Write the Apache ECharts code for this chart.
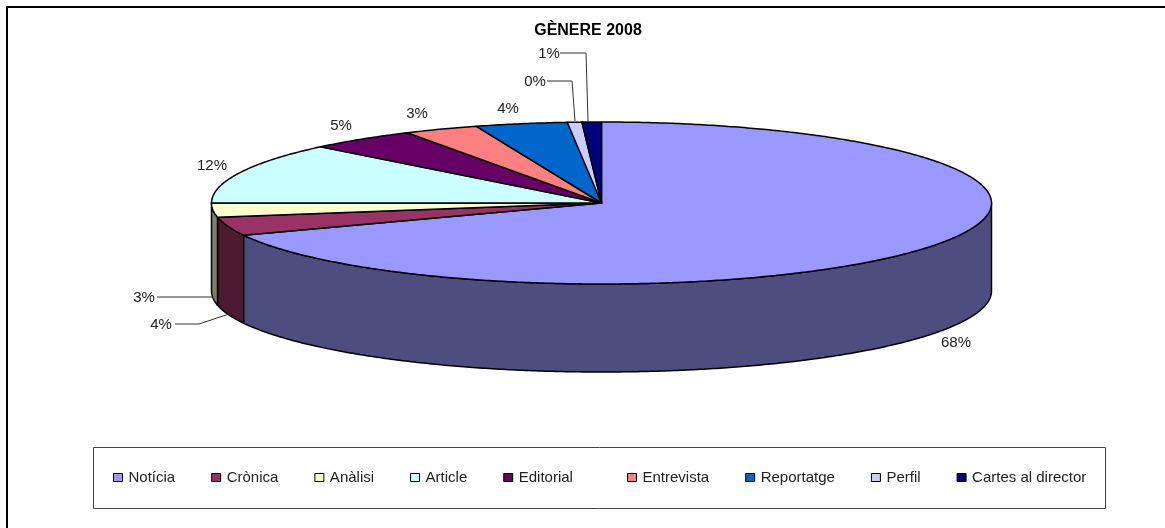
<!DOCTYPE html>
<html>
<head>
<meta charset="utf-8">
<style>
    html, body { margin: 0; padding: 0; background: #fff; }
    #chart { width: 1165px; height: 528px; }
</style>
<script src="https://cdn.jsdelivr.net/npm/echarts@6/dist/echarts.min.js"></script>
</head>
<body>
<div id="chart"></div>
<script>
    var categories = ['Notícia', 'Crònica', 'Anàlisi', 'Article', 'Editorial', 'Entrevista', 'Reportatge', 'Perfil', 'Cartes al director'];
    // slice sizes, the printed labels are rounded
    var shares = [68.5, 3.7, 2.8, 12.2, 4.5, 3.1, 3.8, 0.6, 0.8];
    var percentLabels = ['68%', '4%', '3%', '12%', '5%', '3%', '4%', '0%', '1%'];
    var topColors = ['#9999FF', '#993366', '#FFFFCC', '#CCFFFF', '#660066', '#FF8080', '#0066CC', '#CCCCFF', '#000080'];
    var wallColors = ['#4D4D80', '#4D1A33', '#808066', '#668080', '#330033', '#804040', '#003366', '#666680', '#000040'];

    // the tilted pie
    var pieX = 601.5, pieY = 203, radiusX = 390, radiusY = 81, pieDepth = 88;
    // where each percent label sits, and its leader line if it has one
    var labelPlaces = [
        { x: 956, y: 343 },
        { x: 161, y: 325, leader: [[175, 324], [199, 324], [229, 314]] },
        { x: 144, y: 298, leader: [[157, 297], [213, 297]] },
        { x: 212, y: 166 },
        { x: 341, y: 126 },
        { x: 417, y: 114 },
        { x: 508, y: 109 },
        { x: 535, y: 82, leader: [[547, 81], [572, 81], [575, 121]] },
        { x: 549, y: 54, leader: [[560, 53], [586, 53], [588, 121]] }
    ];

    var textFont = '"Liberation Sans", Arial, sans-serif';
    var total = shares.reduce(function (a, b) { return a + b; }, 0);

    function startDegree(index) {
        var sum = 0;
        for (var i = 0; i < index; i++) {
            sum += shares[i];
        }
        return sum / total * 360;
    }

    function rimPoint(degree, drop) {
        var rad = degree * Math.PI / 180;
        return [pieX + radiusX * Math.sin(rad), pieY - radiusY * Math.cos(rad) + (drop || 0)];
    }

    function rimPoints(from, to, drop) {
        var points = [];
        var steps = Math.max(2, Math.ceil((to - from) * 2));
        for (var i = 0; i <= steps; i++) {
            points.push(rimPoint(from + (to - from) * i / steps, drop));
        }
        return points;
    }

    function renderSlice(params, api) {
        var index = params.seriesIndex;
        var from = startDegree(index);
        var to = from + api.value(0) / total * 360;
        var children = [];

        // only the front half of the rim shows its wall
        var wallFrom = Math.max(from, 90);
        var wallTo = Math.min(to, 270);
        if (wallTo > wallFrom) {
            children.push({
                type: 'polygon',
                z2: 1,
                shape: { points: rimPoints(wallFrom, wallTo, 0).concat(rimPoints(wallFrom, wallTo, pieDepth).reverse()) },
                style: { fill: wallColors[index], stroke: '#000', lineWidth: 1.5, lineJoin: 'round' }
            });
        }

        children.push({
            type: 'polygon',
            z2: 2,
            shape: { points: [[pieX, pieY]].concat(rimPoints(from, to, 0)) },
            style: { fill: topColors[index], stroke: '#000', lineWidth: 1.5, lineJoin: 'round' }
        });

        var place = labelPlaces[index];
        if (place.leader) {
            children.push({
                type: 'polyline',
                z2: 3,
                shape: { points: place.leader },
                style: { fill: null, stroke: '#333', lineWidth: 1 }
            });
        }
        children.push({
            type: 'text',
            z2: 4,
            style: {
                x: place.x,
                y: place.y,
                text: percentLabels[index],
                fill: '#222',
                font: '15px ' + textFont,
                align: 'center',
                verticalAlign: 'middle'
            }
        });

        return { type: 'group', children: children };
    }

    function legendOption(names, left) {
        return {
            data: names,
            left: left,
            top: 470,
            orient: 'horizontal',
            padding: 0,
            itemGap: 36,
            itemWidth: 9,
            itemHeight: 8,
            icon: 'rect',
            selectedMode: false,
            itemStyle: { borderColor: '#000', borderWidth: 1 },
            textStyle: { fontFamily: textFont, fontSize: 15, color: '#222', padding: [0, 0, 0, 1] }
        };
    }

    var chart = echarts.init(document.getElementById('chart'));

    var theOptions = {
        animation: false,
        title: {
            text: 'GÈNERE 2008',
            left: 588,
            top: 23,
            textAlign: 'center',
            padding: 0,
            textStyle: { fontFamily: textFont, fontSize: 16, fontWeight: 'bold', color: '#000' }
        },
        legend: [
            legendOption(categories.slice(0, 5), 113),
            legendOption(categories.slice(5), 627)
        ],
        graphic: [
            // only the top and left of the outer frame are in the picture
            { type: 'polyline', silent: true, shape: { points: [[7, 528], [7, 7], [1165, 7]] }, style: { fill: null, stroke: '#000', lineWidth: 2 } },
            { type: 'rect', silent: true, shape: { x: 93.5, y: 447.5, width: 1012, height: 61 }, style: { fill: null, stroke: '#444', lineWidth: 1 } }
        ],
        series: categories.map(function (name, i) {
            return {
                name: name,
                type: 'custom',
                coordinateSystem: 'none',
                silent: true,
                itemStyle: { color: topColors[i] },
                renderItem: renderSlice,
                data: [[shares[i]]]
            };
        })
    };

    chart.setOption(theOptions);
</script>
</body>
</html>
